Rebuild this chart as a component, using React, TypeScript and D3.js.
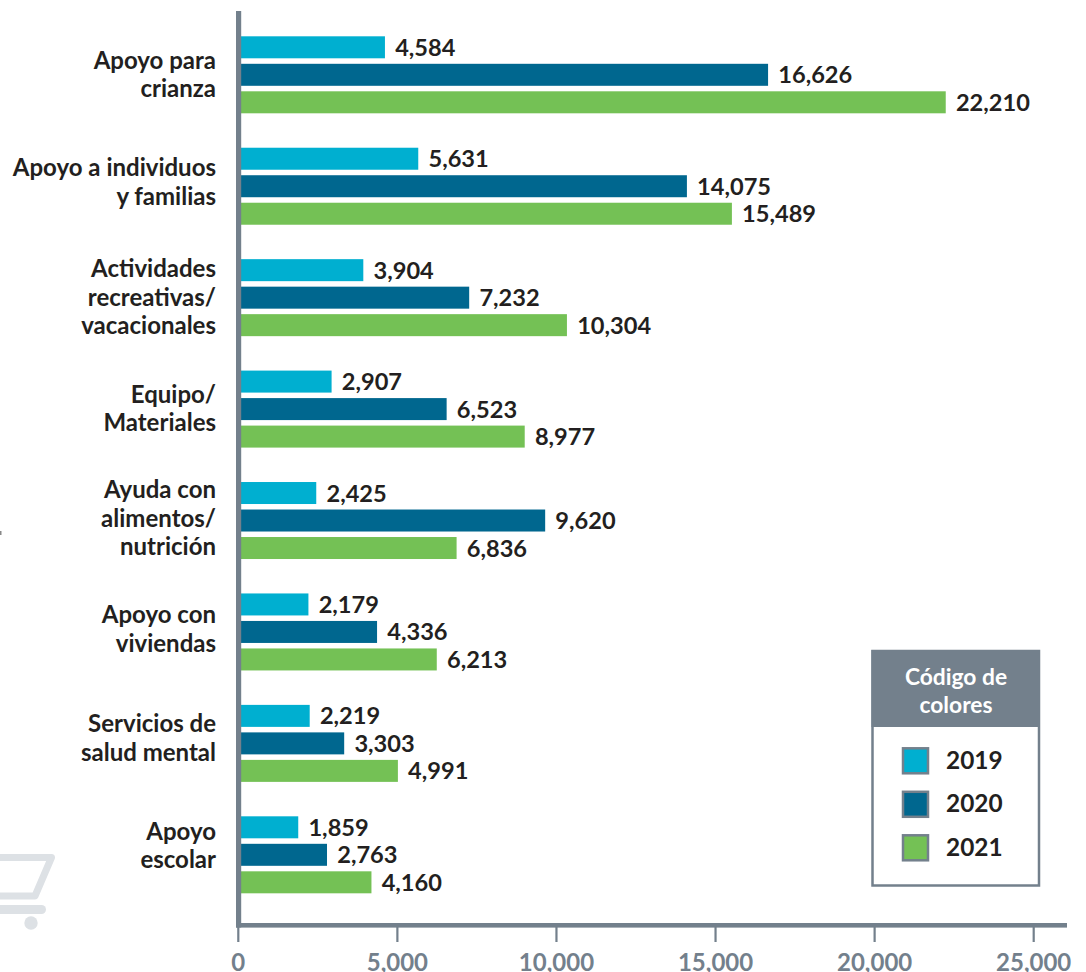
import * as d3 from "d3";

const categories = [
  ["Apoyo para", "crianza"],
  ["Apoyo a individuos", "y familias"],
  ["Actividades", "recreativas/", "vacacionales"],
  ["Equipo/", "Materiales"],
  ["Ayuda con", "alimentos/", "nutrición"],
  ["Apoyo con", "viviendas"],
  ["Servicios de", "salud mental"],
  ["Apoyo", "escolar"],
];
const years = ["2019", "2020", "2021"];
const values2019 = [4584, 5631, 3904, 2907, 2425, 2179, 2219, 1859];
const values2020 = [16626, 14075, 7232, 6523, 9620, 4336, 3303, 2763];
const values2021 = [22210, 15489, 10304, 8977, 6836, 6213, 4991, 4160];
const xTicks = [0, 5000, 10000, 15000, 20000, 25000];
const colors = ["#00afd0", "#00678f", "#74c155"];

const FONT = "Lato, sans-serif";
const INK = "#231f20";
const SLATE = "#73808c";
const WIDTH = 1086;
const HEIGHT = 972;

// category labels are not quite centred on their bars in the original
const labelNudge = [0, -4, 0, 0, -2, -2.5, -5, -9];

const series = [values2019, values2020, values2021];
const x = d3.scaleLinear().domain([0, 25000]).range([238.3, 1033.7]);
const groupY = d3
  .scaleBand()
  .domain(categories.map((c) => c.join(" ")))
  .range([36.3, 36.3 + 8 * 111.43]);
const barY = d3.scaleBand().domain(years).range([0, 77]).paddingInner(0.2);
const legendY = d3.scaleBand().domain(years).range([747.3, 877.8]);
const fmt = d3.format(",");

export default function App() {
  return (
    <svg
      width={WIDTH}
      height={HEIGHT}
      viewBox={`0 0 ${WIDTH} ${HEIGHT}`}
      style={{ position: "absolute", left: 0, top: 0, background: "#fff" }}
      fontFamily={FONT}
      fontWeight={700}
    >
      {/* cart watermark cut off by the left edge */}
      <g fill="none" stroke="#dde1e5" strokeLinecap="round" strokeLinejoin="round">
        <path d="M-10,857.5 H51.5 L35,896 H-10" strokeWidth={7} />
        <path d="M-10,909.5 H41.5" strokeWidth={9} />
      </g>
      <circle cx={31} cy={923} r={6.7} fill="#dde1e5" />
      <rect x={0} y={531} width={1.5} height={4} fill="#8a8a8a" />

      {categories.map((lines, i) => {
        const key = lines.join(" ");
        const top = groupY(key) ?? 0;
        const mid = top + 38.3 + labelNudge[i];
        return (
          <g key={key}>
            {lines.map((line, j) => (
              <text
                key={line}
                x={216}
                y={mid + 8.3 + (j - (lines.length - 1) / 2) * 28.6}
                textAnchor="end"
                fontSize={24}
                fill={INK}
              >
                {line}
              </text>
            ))}
            {years.map((year, s) => {
              const v = series[s][i];
              const y = top + (barY(year) ?? 0);
              return (
                <g key={year}>
                  <rect
                    x={x(0)}
                    y={y}
                    width={x(v) - x(0) + 0.8}
                    height={barY.bandwidth()}
                    fill={colors[s]}
                  />
                  <text x={x(v) + 11} y={y + 19.5} fontSize={23.6} fill={INK}>
                    {fmt(v)}
                  </text>
                </g>
              );
            })}
          </g>
        );
      })}

      {/* axes */}
      <rect x={236} y={11} width={5.2} height={916.5} fill={SLATE} />
      <rect x={236} y={923} width={831} height={4.6} fill={SLATE} />
      {xTicks.map((t) => (
        <g key={t}>
          <line x1={x(t)} x2={x(t)} y1={927} y2={942} stroke={SLATE} strokeWidth={2.2} />
          <text x={x(t)} y={971} textAnchor="middle" fontSize={24} fill={SLATE}>
            {fmt(t)}
          </text>
        </g>
      ))}

      {/* legend */}
      <rect x={872.5} y={651} width={166.5} height={234.5} fill="#fff" stroke={SLATE} strokeWidth={2.5} />
      <rect x={871.5} y={650} width={168.5} height={77} fill={SLATE} />
      <text x={956} y={685} textAnchor="middle" fontSize={22.8} fill="#fff">
        Código de
      </text>
      <text x={956} y={712.5} textAnchor="middle" fontSize={22.8} fill="#fff">
        colores
      </text>
      {years.map((year, s) => {
        const y = legendY(year) ?? 0;
        return (
          <g key={year}>
            <rect
              x={903}
              y={y + 1}
              width={25}
              height={25}
              fill={colors[s]}
              stroke={SLATE}
              strokeWidth={2.5}
            />
            <text x={946} y={y + 21.5} fontSize={24.4} fill={INK}>
              {year}
            </text>
          </g>
        );
      })}
    </svg>
  );
}
